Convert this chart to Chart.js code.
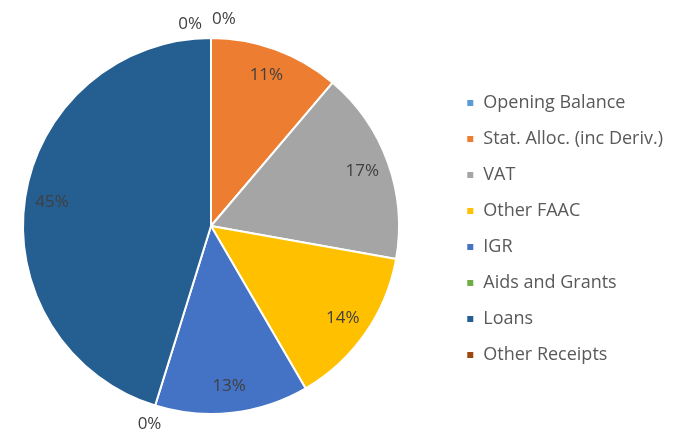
<!DOCTYPE html>
<html>
<head>
<meta charset="utf-8">
<script src="https://cdn.jsdelivr.net/npm/chart.js@4"></script>
<style>
  html, body { margin: 0; padding: 0; background: #fff; }
  #wrap { width: 682px; height: 436px; }
</style>
</head>
<body>
<div id="wrap"><canvas id="pieChart"></canvas></div>
<script>
// Revenue sources (share of total, %)
const sources = ["Opening Balance", "Stat. Alloc. (inc Deriv.)", "VAT", "Other FAAC", "IGR", "Aids and Grants", "Loans", "Other Receipts"];
const shares = [0, 11.2, 16.6, 13.8, 13.2, 0, 45.2, 0];
const colors = ["#5B9BD5", "#ED7D31", "#A5A5A5", "#FFC000", "#4472C4", "#70AD47", "#255E91", "#9E480E"];

const fontFamily = "'Open Sans', sans-serif";

// keep the pie square on the left part of the chart area
const squareArea = {
    id: 'squareArea',
    afterLayout(chart) {
        const a = chart.chartArea;
        a.right = a.left + (a.bottom - a.top);
        a.width = a.right - a.left;
    }
};

// draws the percentage labels, zero slices get theirs outside the pie
const pieLabels = {
    id: 'pieLabels',
    afterDatasetsDraw(chart) {
        const ctx = chart.ctx;
        const meta = chart.getDatasetMeta(0);
        const total = shares.reduce((a, b) => a + b, 0);
        ctx.save();
        ctx.font = "17px " + fontFamily;
        ctx.fillStyle = "#404040";
        ctx.textBaseline = "middle";
        meta.data.forEach((arc, i) => {
            const pct = Math.round(shares[i] / total * 100) + "%";
            const mid = (arc.startAngle + arc.endAngle) / 2;
            let d = arc.outerRadius * 0.855;
            let align = "center";
            let dx = 0, dy = 0;
            if (shares[i] === 0) {
                d = arc.outerRadius + 19;
                if (i === 0) { align = "right"; dx = -9; dy = 5; }
                if (i === shares.length - 1) { align = "left"; dx = 1; }
            }
            ctx.textAlign = align;
            ctx.fillText(pct, arc.x + Math.cos(mid) * d + dx, arc.y + Math.sin(mid) * d + dy);
        });
        ctx.restore();
    }
};

const ctx = document.getElementById('pieChart').getContext('2d');
const pieChart = new Chart(ctx, {
    type: 'pie',
    data: {
        labels: sources,
        datasets: [{
            data: shares,
            backgroundColor: colors,
            borderColor: '#ffffff',
            borderWidth: 2
        }]
    },
    options: {
        responsive: true,
        maintainAspectRatio: false,
        animation: false,
        layout: {
            padding: { top: 37, bottom: 21, left: 22, right: 9 }
        },
        plugins: {
            tooltip: { enabled: false },
            legend: {
                position: 'right',
                // empty title only nudges the items down a little
                title: { display: true, text: ' ', padding: 0, font: { size: 5, lineHeight: 1.2 } },
                labels: {
                    boxWidth: 8,
                    boxHeight: 8,
                    padding: 18,
                    color: '#595959',
                    font: { size: 18, family: fontFamily }
                }
            }
        }
    },
    plugins: [squareArea, pieLabels]
});
</script>
</body>
</html>
